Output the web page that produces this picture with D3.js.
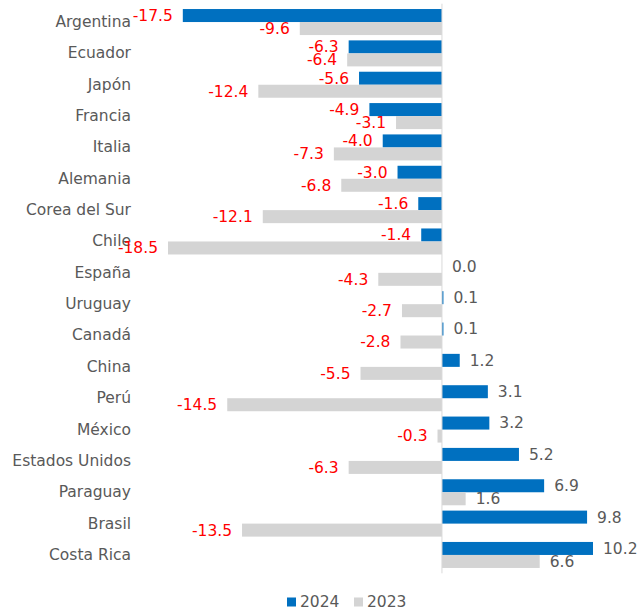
<!DOCTYPE html>
<meta charset="utf-8">
<style>
body { margin: 0; background: #fff; }
#yAxis path, #yAxis line { display: none; }
#yAxis text { font-size: 15.5px; font-family: "DejaVu Sans", Verdana, sans-serif; fill: #595959; }
</style>
<html>
<body>
<div id="my_dataviz"></div>
<script src="https://d3js.org/d3.v7.min.js"></script>
<script>
// data
var countries = ["Argentina", "Ecuador", "Japón", "Francia", "Italia", "Alemania", "Corea del Sur", "Chile",
  "España", "Uruguay", "Canadá", "China", "Perú", "México", "Estados Unidos", "Paraguay", "Brasil", "Costa Rica"];
var values2024 = [-17.5, -6.3, -5.6, -4.9, -4.0, -3.0, -1.6, -1.4, 0.0, 0.1, 0.1, 1.2, 3.1, 3.2, 5.2, 6.9, 9.8, 10.2];
var values2023 = [-9.6, -6.4, -12.4, -3.1, -7.3, -6.8, -12.1, -18.5, -4.3, -2.7, -2.8, -5.5, -14.5, -0.3, -6.3, 1.6, -13.5, 6.6];
var seriesNames = ["2024", "2023"];
var seriesColors = ["#0070C0", "#D4D4D4"];

var width = 639, height = 614;
var font = "'DejaVu Sans', Verdana, sans-serif";

var svg = d3.select("#my_dataviz")
  .append("svg")
    .attr("width", width)
    .attr("height", height);

// build rows from the arrays
var data = countries.map(function(c, i) {
  return { country: c, vals: [values2024[i], values2023[i]] };
});

var x = d3.scaleLinear()
  .domain([-18.5, 10.2])
  .range([168, 593]);

var y = d3.scaleBand()
  .domain(countries)
  .range([3.7, 573.3])
  .padding(0.17);

var ySub = d3.scaleBand()
  .domain(seriesNames)
  .range([0, y.bandwidth()]);

// category axis
svg.append("g")
  .attr("id", "yAxis")
  .attr("transform", "translate(135,0)")
  .call(d3.axisLeft(y).tickSize(0).tickPadding(4));

var groups = svg.selectAll(".grp")
  .data(data)
  .enter()
  .append("g")
    .attr("class", "grp")
    .attr("transform", function(d) { return "translate(0," + y(d.country) + ")"; });

var cells = groups.selectAll("g.cell")
  .data(function(d) { return d.vals.map(function(v, k) { return { v: v, s: seriesNames[k], k: k }; }); })
  .enter()
  .append("g").attr("class", "cell");

cells.append("rect")
  .attr("x", function(d) { return Math.min(x(0), x(d.v)); })
  .attr("y", function(d) { return ySub(d.s); })
  .attr("width", function(d) { return Math.abs(x(d.v) - x(0)); })
  .attr("height", ySub.bandwidth())
  .attr("fill", function(d) { return seriesColors[d.k]; });

cells.append("text")
  .attr("x", function(d) { return d.v < 0 ? x(d.v) - 10 : x(d.v) + 10; })
  .attr("y", function(d) { return ySub(d.s) + ySub.bandwidth() / 2; })
  .attr("dy", "0.35em")
  .attr("text-anchor", function(d) { return d.v < 0 ? "end" : "start"; })
  .style("font-family", font)
  .style("font-size", "15.5px")
  .style("fill", function(d) { return d.v < 0 ? "#FF0000" : "#595959"; })
  .text(function(d) { return d.v.toFixed(1); });

// zero line
svg.append("line")
  .attr("x1", x(0)).attr("x2", x(0))
  .attr("y1", y.range()[0]).attr("y2", y.range()[1])
  .attr("stroke", "#D9D9D9")
  .attr("stroke-width", 1);

// legend
var legend = svg.append("g").attr("transform", "translate(287,602)");
seriesNames.forEach(function(s, i) {
  var g = legend.append("g").attr("transform", "translate(" + (i * 67) + ",0)");
  g.append("rect").attr("x", 0).attr("y", -4.5).attr("width", 9).attr("height", 9).attr("fill", seriesColors[i]);
  g.append("text").attr("x", 13).attr("y", 0).attr("dy", "0.35em")
    .style("font-family", font).style("font-size", "15.5px").style("fill", "#595959")
    .text(s);
});
</script>
</body>
</html>
